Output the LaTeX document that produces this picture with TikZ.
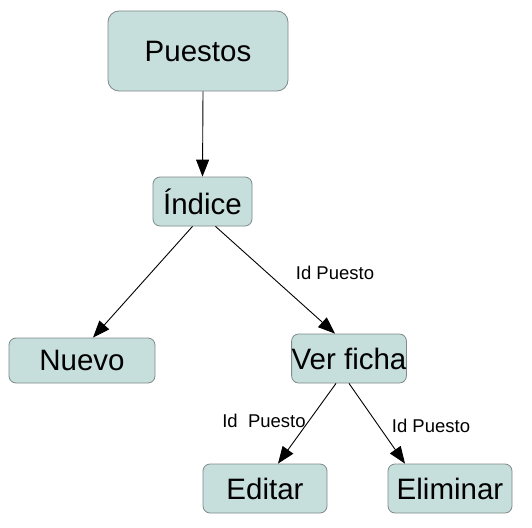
\documentclass[tikz,border=0pt]{standalone}
\usepackage{fontspec}
\setmainfont{Liberation Sans}
\usetikzlibrary{arrows.meta}
\definecolor{boxfill}{HTML}{C6DFDC}
\definecolor{boxline}{HTML}{7F8A88}
\tikzset{
  box/.style={draw=boxline, fill=boxfill, line width=0.8pt, rounded corners=7pt,
    inner sep=0pt, font=\fontsize{29.5}{32}\selectfont, text=black},
  arr/.style={-{Triangle[length=17pt,width=13pt]}, line width=0.9pt, black},
  lbl/.style={font=\fontsize{18.5}{21}\selectfont, inner sep=0pt, text=black}
}
\begin{document}
\begin{tikzpicture}[x=1pt,y=-1pt]
\useasboundingbox[fill=white] (0,0) rectangle (532,527);
\node[box, rounded corners=11pt, minimum width=180pt, minimum height=80pt] (puestos) at (198,51) {Puestos};
\node[box, minimum width=99pt, minimum height=49pt] (indice) at (202.5,201.5) {Índice};
\node[box, minimum width=146pt, minimum height=45pt] (nuevo) at (82,360.5) {Nuevo};
\node[box, minimum width=114pt, minimum height=49pt] (ver) at (349,358.5) {Ver ficha};
\node[box, minimum width=124pt, minimum height=49pt] (editar) at (265,488.5) {Editar};
\node[box, minimum width=124pt, minimum height=49pt] (eliminar) at (450,488.5) {Eliminar};
\draw[arr] ([xshift=5pt]puestos.south) -- (indice.north);
\draw[arr] ([xshift=-10pt]indice.south) -- ([xshift=11pt]nuevo.north);
\draw[arr] ([xshift=13pt]indice.south) -- ([xshift=-14pt]ver.north);
\draw[arr] ([xshift=-13pt]ver.south) -- ([xshift=13pt]editar.north);
\draw[arr] ([xshift=0pt]ver.south) -- ([xshift=-45pt]eliminar.north);
\node[lbl] (l1) at (335,273) {Id Puesto};
\node[lbl] (l2) at (264,421) {Id\ \ Puesto};
\node[lbl] (l3) at (431,426) {Id Puesto};
\end{tikzpicture}
\end{document}
